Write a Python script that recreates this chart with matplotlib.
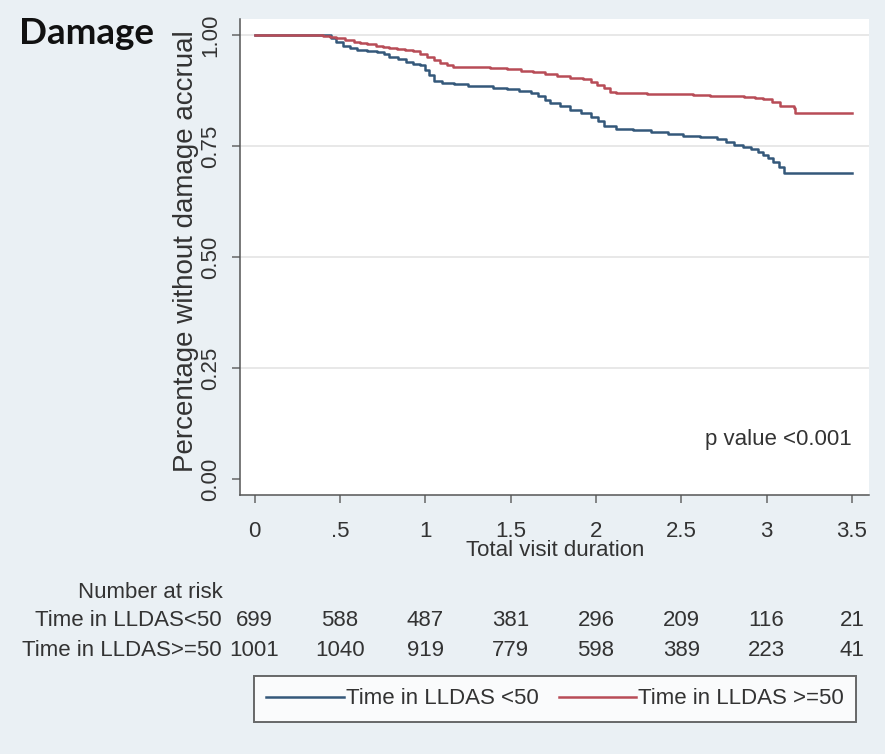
import matplotlib
matplotlib.use("Agg")
import matplotlib.pyplot as plt
import matplotlib.transforms as mtransforms

# ---------------- data ----------------
blue_t = [0, .45, .48, .52, .56, .60, .66, .72, .76, .79, .84, .89, .93, .97, 1.00, 1.02, 1.05, 1.10, 1.17, 1.25,
          1.32, 1.40, 1.48, 1.55, 1.62, 1.66, 1.70, 1.73, 1.79, 1.85, 1.91, 1.97, 2.01, 2.05, 2.12, 2.22, 2.32, 2.42,
          2.51, 2.61, 2.71, 2.76, 2.81, 2.86, 2.91, 2.95, 2.98, 3.01, 3.04, 3.07, 3.10, 3.50]
blue_v = [1.0, .993, .985, .976, .970, .966, .964, .962, .957, .951, .946, .940, .935, .932, .922, .910, .896, .892,
          .889, .886, .884, .881, .878, .874, .869, .862, .853, .847, .839, .831, .824, .816, .806, .794, .788, .785,
          .781, .777, .773, .770, .766, .759, .752, .748, .743, .737, .730, .723, .715, .703, .690, .690]
red_t = [0, .40, .44, .48, .53, .58, .62, .66, .71, .755, .79, .834, .88, .93, .97, 1.01, 1.05, 1.087, 1.13, 1.165,
         1.28, 1.38, 1.478, 1.56, 1.634, 1.70, 1.77, 1.85, 1.927, 1.97, 2.006, 2.045, 2.084, 2.12, 2.30, 2.475, 2.57,
         2.67, 2.77, 2.865, 2.93, 2.98, 3.03, 3.08, 3.158, 3.168, 3.50]
red_v = [1.0, .997, .995, .9925, .989, .985, .982, .979, .976, .974, .971, .968, .966, .964, .958, .951, .944, .936,
         .932, .929, .927, .925, .923, .920, .917, .913, .908, .904, .900, .894, .887, .880, .872, .869, .868, .867,
         .865, .863, .862, .861, .859, .856, .848, .839, .836, .825, .825]

x_ticks = [0, 0.5, 1, 1.5, 2, 2.5, 3, 3.5]
x_ticklabels = ["0", ".5", "1", "1.5", "2", "2.5", "3", "3.5"]
y_ticks = [0, 0.25, 0.5, 0.75, 1.0]
y_ticklabels = ["0.00", "0.25", "0.50", "0.75", "1.00"]

risk_labels = ["Time in LLDAS<50", "Time in LLDAS>=50"]
risk_blue = [699, 588, 487, 381, 296, 209, 116, 21]
risk_red = [1001, 1040, 919, 779, 598, 389, 223, 41]

legend_labels = ["Time in LLDAS <50", "Time in LLDAS >=50"]

# ---------------- style ----------------
W, H = 885, 754
BG = "#eaf0f4"
BLUE = "#34587a"
RED = "#b84c57"
TXT = "#333333"
FONT = ["Liberation Sans", "DejaVu Sans"]
plt.rcParams["font.family"] = FONT

fig = plt.figure(figsize=(W / 100, H / 100), dpi=100, facecolor=BG)

def fx(px):
    return px / W

def fy(py):
    return 1 - py / H

ax = fig.add_axes([fx(240), fy(495), fx(869) - fx(240), fy(19) - fy(495)])
ax.set_facecolor("white")
ax.set_xlim(-0.085, 3.60)
ax.set_ylim(-0.036, 1.036)

for yv in [0.25, 0.5, 0.75, 1.0]:
    ax.axhline(yv, color="#e6e6e6", lw=1.3, zorder=1)

l1, = ax.plot(blue_t, blue_v, drawstyle="steps-post", color=BLUE, lw=1.8, zorder=3)
l2, = ax.plot(red_t, red_v, drawstyle="steps-post", color=RED, lw=1.8, zorder=3)

for s in ["top", "right"]:
    ax.spines[s].set_visible(False)
for s in ["left", "bottom"]:
    ax.spines[s].set_color("#555555")
    ax.spines[s].set_linewidth(1.1)

ax.set_xticks(x_ticks)
ax.set_xticklabels(x_ticklabels, fontsize=16, color=TXT)
ax.set_yticks(y_ticks)
ax.set_yticklabels(y_ticklabels, fontsize=16, color=TXT, rotation=90, va="center")
ax.tick_params(axis="both", direction="out", length=5.5, width=1.1, color="#666666")
ax.tick_params(axis="x", pad=13)
ax.tick_params(axis="y", pad=8)

ax.text(3.5, 0.088, "p value <0.001", ha="right", va="center", fontsize=16, color=TXT)

fig.text(fx(186), fy(251), "Percentage without damage accrual", rotation=90, ha="center", va="center",
         fontsize=20, color=TXT)
fig.text(fx(555), fy(551), "Total visit duration", ha="center", va="center", fontsize=16, color=TXT)
fig.text(fx(19), fy(33), "Damage", ha="left", va="center", fontsize=26.5, fontweight="bold",
         family=["Lato", "DejaVu Sans"], color="#111111")

# number at risk
trans = mtransforms.blended_transform_factory(ax.transData, fig.transFigure)
fig.text(fx(150), fy(592), "Number at risk", ha="center", va="center", fontsize=16, color=TXT)
for row, (lab, vals) in enumerate(zip(risk_labels, [risk_blue, risk_red])):
    ypos = fy(621 + 29.5 * row)
    fig.text(fx(222), ypos, lab, ha="right", va="center", fontsize=16, color=TXT)
    for xt, v in zip(x_ticks, vals):
        ax.text(xt, ypos, str(v), transform=trans, ha="center", va="center", fontsize=16, color=TXT,
                clip_on=False)

leg = fig.legend([l1, l2], legend_labels, loc="center", ncol=2,
                 bbox_to_anchor=(fx(555), fy(699)),
                 fontsize=16, frameon=True, fancybox=False, edgecolor="#444444",
                 handlelength=3.5, handletextpad=0.1, columnspacing=0.9, borderpad=0.55,
                 borderaxespad=0)
leg.get_frame().set_linewidth(1.4)
for t in leg.get_texts():
    t.set_color(TXT)

fig.savefig("out.png", dpi=100, facecolor=BG)
